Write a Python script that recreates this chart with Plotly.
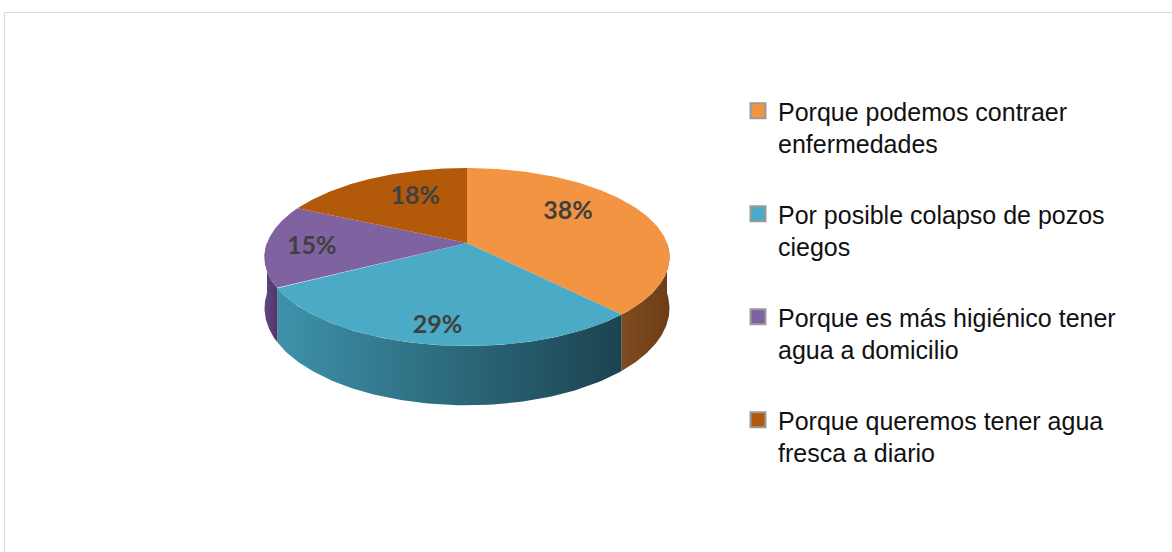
import numpy as np
import plotly.graph_objects as go

# ---- data ----
categories = [
    "Porque podemos contraer enfermedades",
    "Por posible colapso de pozos ciegos",
    "Porque es más higiénico tener agua a domicilio",
    "Porque queremos tener agua fresca a diario",
]
legend_labels = [
    "Porque podemos contraer<br>enfermedades",
    "Por posible colapso de pozos<br>ciegos",
    "Porque es más higiénico tener<br>agua a domicilio",
    "Porque queremos tener agua<br>fresca a diario",
]
values = [38, 29, 15, 18]

# ---- style ----
top_colors = ["#F29441", "#4BAAC5", "#7F62A0", "#B35A0A"]
side_colors = [("#804c20", "#6c3d16"), ("#3d92aa", "#1c4350"),
               ("#624781", "#4f3669"), ("#7a3e08", "#5a2b05")]
W, H = 1172, 552
apx, apy = 467, 243    # projected centre of the disc (px)
R, Ry = 200, 86.8      # horizontal / vertical radii of the disc (px)
D = 6.36               # perspective distance (in disc radii)
depth = 50
label_r = [0.646, 0.849, 0.771, 0.63]       # label distance from centre
label_dt = [12.7, 0.3, 2.4, -5.9]           # label angle tweak (deg)

fracs = np.array(values, dtype=float) / sum(values)
ends = np.cumsum(fracs)
starts = ends - fracs


def ang(f):
    return np.pi / 2 - 2 * np.pi * f


def proj(r, t, dy=0.0):
    u, v = r * np.cos(t), r * np.sin(t)
    f = D / (D + v)
    return apx + R * u * f, apy - Ry * v * f + dy * f


fig = go.Figure()

# sides (front part only)
for i in range(len(values)):
    t0, t1 = ang(starts[i]), ang(ends[i])  # t0 > t1
    hi, lo = min(t0, 0.0), max(t1, -np.pi)
    if hi <= lo:
        continue
    t = np.linspace(hi, lo, 100)
    xt, yt = proj(1.0, t)
    xb, yb = proj(1.0, t[::-1], depth)
    xs = np.concatenate([xt, xb, xt[:1]])
    ys = np.concatenate([yt, yb, yt[:1]])
    fig.add_trace(go.Scatter(
        x=xs, y=ys, mode="lines", fill="toself", line=dict(width=0),
        fillgradient=dict(type="horizontal",
                          colorscale=[[0, side_colors[i][0]], [1, side_colors[i][1]]]),
        hoverinfo="skip", showlegend=False, legendgroup=str(i)))

# top faces
for i in range(len(values)):
    t0, t1 = ang(starts[i]), ang(ends[i])
    t = np.linspace(t0, t1, 150)
    xa, ya = proj(1.0, t)
    xs = np.concatenate([[apx], xa, [apx]])
    ys = np.concatenate([[apy], ya, [apy]])
    fig.add_trace(go.Scatter(
        x=xs, y=ys, mode="lines", fill="toself", fillcolor=top_colors[i],
        line=dict(width=0), name=categories[i], hoverinfo="name",
        showlegend=False, legendgroup=str(i)))

# data labels
tm = ang((starts + ends) / 2) + np.radians(label_dt)
lx, ly = proj(np.array(label_r), tm)
fig.add_trace(go.Scatter(
    x=lx, y=ly, mode="text", text=[f"{v}%" for v in values],
    textfont=dict(family="Lato, Open Sans, sans-serif", size=25, color="#404040",
                  weight="bold"),
    hoverinfo="skip", showlegend=False))

# legend entries
for i in range(len(values)):
    fig.add_trace(go.Scatter(
        x=[None], y=[None], mode="markers", name=legend_labels[i],
        legendgroup=str(i),
        marker=dict(symbol="square", size=15, color=top_colors[i],
                    line=dict(color="#9a9a9a", width=2))))

fig.add_shape(type="rect", x0=4.5, y0=12.5, x1=1200, y1=600,
              line=dict(color="#d9d9d9", width=1), fillcolor="rgba(0,0,0,0)",
              layer="below")

fig.update_layout(
    width=W, height=H, autosize=False,
    margin=dict(l=0, r=0, t=0, b=0),
    paper_bgcolor="white", plot_bgcolor="white",
    xaxis=dict(range=[0, W], visible=False, fixedrange=True),
    yaxis=dict(range=[H, 0], visible=False, fixedrange=True),
    legend=dict(x=738 / W, y=1 - 88 / H, xanchor="left", yanchor="top",
                traceorder="grouped", tracegroupgap=35, valign="top",
                font=dict(family="Liberation Sans, Arial, sans-serif", size=25,
                          color="#111111"),
                bgcolor="rgba(0,0,0,0)", itemsizing="trace"),
    showlegend=True,
)

fig.write_html("out.html", config={"displayModeBar": False},
               post_script="document.body.style.margin='0';")
